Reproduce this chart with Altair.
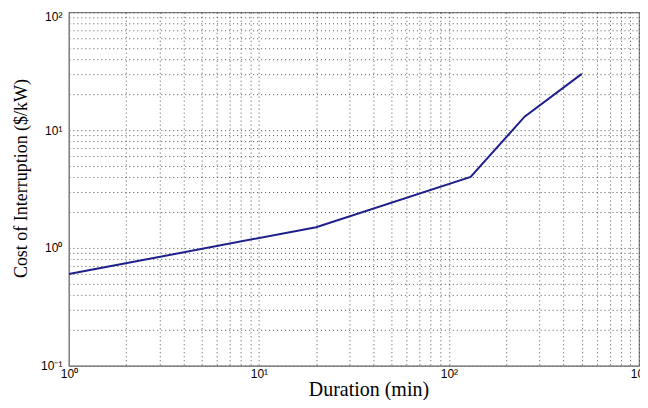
import altair as alt
import pandas as pd

# Data (log-log curve)
duration_min = [1, 20, 130, 250, 500]
cost_per_kw = [0.6, 1.5, 4.0, 13.0, 30.0]

# Grid / tick positions (1..9 per decade)
mantissas = [1, 2, 3, 4, 5, 6, 7, 8, 9]
x_decades = [1, 10, 100]
y_decades = [0.1, 1, 10]
x_ticks = [round(m * d, 6) for d in x_decades for m in mantissas] + [1000]
y_ticks = [round(m * d, 6) for d in y_decades for m in mantissas] + [100]

x_labels = {1: "10⁰", 10: "10¹", 100: "10²", 1000: "10³"}
y_labels = {0.1: "10⁻¹", 1: "10⁰", 10: "10¹", 100: "10²"}


def label_expr(labels):
    parts = []
    for v, s in labels.items():
        parts.append(f"abs(datum.value - {v}) < {v} * 0.001 ? '{s}'")
    return " : ".join(parts) + " : ''"


df = pd.DataFrame({"Duration": duration_min, "Cost": cost_per_kw})

chart = (
    alt.Chart(df)
    .mark_line(color="#1f1f8c", strokeWidth=2, clip=True)
    .encode(
        x=alt.X(
            "Duration:Q",
            scale=alt.Scale(type="log", domain=[1, 1000], nice=False),
            axis=alt.Axis(
                values=x_ticks,
                labelExpr=label_expr(x_labels),
                title="Duration (min)",
                titleFontSize=20,
                titleX=300,
                titleY=30,
                titleAlign="center",
                titleBaseline="alphabetic",
                labelBaseline="top",
                labelPadding=3,
            ),
        ),
        y=alt.Y(
            "Cost:Q",
            scale=alt.Scale(type="log", domain=[0.1, 100], nice=False),
            axis=alt.Axis(
                values=y_ticks,
                labelExpr=label_expr(y_labels),
                title="Cost of Interruption ($/kW)",
                titleFontSize=18,
                titleX=-42,
                titleY=166,
                titleAngle=270,
                titleAlign="center",
                titleBaseline="alphabetic",
                labelAlign="right",
                labelBaseline="middle",
                labelPadding=7,
                labelOffset={"condition": {"test": "datum.value > 99", "value": 4}, "value": 0},
            ),
        ),
    )
    .properties(
        width=571,
        height=354,
        autosize=alt.AutoSizeParams(type="none"),
        padding={"left": 61, "top": 4, "right": 1, "bottom": 34},
        background="white",
    )
    .configure_view(stroke="#808080", strokeWidth=1.2)
    .configure_axis(
        grid=True,
        gridColor="#333333",
        gridDash=[1, 3],
        gridOpacity=0.85,
        gridWidth=1,
        ticks=False,
        domainColor="#808080",
        domainWidth=1.2,
        labelFont="Liberation Sans",
        labelFontSize=12,
        labelColor="#000000",
        labelOverlap=False,
        labelFlush=False,
        titleFont="Liberation Serif",
        titleFontWeight="normal",
        titleColor="#000000",
    )
)

chart.save("out.html", embed_options={"renderer": "svg", "actions": False})
